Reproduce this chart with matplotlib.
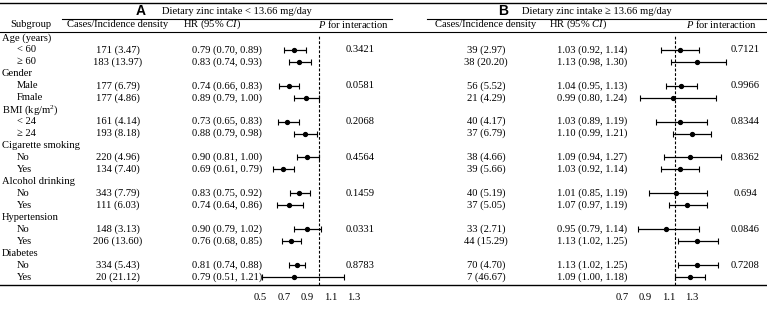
import numpy as np
import matplotlib
matplotlib.use("Agg")
import matplotlib.pyplot as plt

plt.rcParams['font.family'] = ['Liberation Serif', 'DejaVu Serif']
plt.rcParams['mathtext.fontset'] = 'custom'
plt.rcParams['mathtext.rm'] = 'Liberation Serif'
plt.rcParams['mathtext.it'] = 'Liberation Serif:italic'

groups = ["Age (years)", "Gender", "BMI (kg/m$^2$)", "Cigarette smoking",
          "Alcohol drinking", "Hypertension", "Diabetes"]
levels = [["< 60", "≥ 60"], ["Male", "Fmale"], ["< 24", "≥ 24"], ["No", "Yes"],
          ["No", "Yes"], ["No", "Yes"], ["No", "Yes"]]

a_cases = ["171 (3.47)", "183 (13.97)", "177 (6.79)", "177 (4.86)", "161 (4.14)",
           "193 (8.18)", "220 (4.96)", "134 (7.40)", "343 (7.79)", "111 (6.03)",
           "148 (3.13)", "206 (13.60)", "334 (5.43)", "20 (21.12)"]
a_hr = [0.79, 0.83, 0.74, 0.89, 0.73, 0.88, 0.90, 0.69, 0.83, 0.74, 0.90, 0.76, 0.81, 0.79]
a_lo = [0.70, 0.74, 0.66, 0.79, 0.65, 0.79, 0.81, 0.61, 0.75, 0.64, 0.79, 0.68, 0.74, 0.51]
a_hi = [0.89, 0.93, 0.83, 1.00, 0.83, 0.98, 1.00, 0.79, 0.92, 0.86, 1.02, 0.85, 0.88, 1.21]
a_p = ["0.3421", "0.0581", "0.2068", "0.4564", "0.1459", "0.0331", "0.8783"]

b_cases = ["39 (2.97)", "38 (20.20)", "56 (5.52)", "21 (4.29)", "40 (4.17)",
           "37 (6.79)", "38 (4.66)", "39 (5.66)", "40 (5.19)", "37 (5.05)",
           "33 (2.71)", "44 (15.29)", "70 (4.70)", "7 (46.67)"]
b_hr = [1.03, 1.13, 1.04, 0.99, 1.03, 1.10, 1.09, 1.03, 1.01, 1.07, 0.95, 1.13, 1.13, 1.09]
b_lo = [0.92, 0.98, 0.95, 0.80, 0.89, 0.99, 0.94, 0.92, 0.85, 0.97, 0.79, 1.02, 1.02, 1.00]
b_hi = [1.14, 1.30, 1.13, 1.24, 1.19, 1.21, 1.27, 1.14, 1.19, 1.19, 1.14, 1.25, 1.25, 1.18]
b_p = ["0.7121", "0.9966", "0.8344", "0.8362", "0.694", "0.0846", "0.7208"]

ticks = [0.5, 0.7, 0.9, 1.1, 1.3]
ticks_b = [0.7, 0.9, 1.1, 1.3]

W, H = 767, 331
FS = 7.6
fig = plt.figure(figsize=(W / 100, H / 100), dpi=100)
ax = fig.add_axes([0, 0, 1, 1])
ax.set_xlim(0, W)
ax.set_ylim(H, 0)
ax.axis('off')

# row positions (pixels): group header, then its two levels
row_y = 38 + 11.95 * np.arange(3 * len(groups))
lvl_y = np.array([row_y[3 * g + k] for g in range(len(groups)) for k in (1, 2)])
p_y = row_y[1::3]

# rules
ax.plot([0, W], [3, 3], color='black', lw=1.0)
ax.plot([0, W], [31.5, 31.5], color='black', lw=0.8)
ax.plot([0, W], [285, 285], color='black', lw=1.0)
ax.plot([62, 392], [19, 19], color='black', lw=0.8)
ax.plot([427, W], [19, 19], color='black', lw=0.8)

# panel titles
ax.text(141, 11, "A", fontsize=10, fontweight='bold', family='Liberation Sans', ha='center', va='center')
ax.text(162, 11, "Dietary zinc intake < 13.66 mg/day", fontsize=FS, ha='left', va='center')
ax.text(503, 11, "B", fontsize=10, fontweight='bold', family='Liberation Sans', ha='center', va='center')
ax.text(522, 11, "Dietary zinc intake ≥ 13.66 mg/day", fontsize=FS, ha='left', va='center')

# column headers
hy = 24.5
ax.text(31, hy, "Subgroup", fontsize=FS, ha='center', va='center')
for cx, hx, px in [(118, 212, 353), (486, 578, 721)]:
    ax.text(cx, hy, "Cases/Incidence density", fontsize=FS, ha='center', va='center')
    ax.text(hx, hy, "HR (95% $CI$)", fontsize=FS, ha='center', va='center')
    ax.text(px, hy, "$P$ for interaction", fontsize=FS, ha='center', va='center')

# subgroup labels
for g, name in enumerate(groups):
    ax.text(2, row_y[3 * g], name, fontsize=FS, ha='left', va='center')
names = [l for pair in levels for l in pair]
for y, name in zip(lvl_y, names):
    ax.text(17, y, name, fontsize=FS, ha='left', va='center')


def panel(cases, hr, lo, hi, pv, cx, hx, px, one_px, ppu, left, right):
    hr, lo, hi = np.array(hr), np.array(lo), np.array(hi)
    for y, c, h, l, u in zip(lvl_y, cases, hr, lo, hi):
        ax.text(cx, y, c, fontsize=FS, ha='center', va='center')
        ax.text(hx, y, f"{h:.2f} ({l:.2f}, {u:.2f})", fontsize=FS, ha='left', va='center')
    for y, p in zip(p_y, pv):
        ax.text(px, y, p, fontsize=FS, ha='center', va='center')
    axf = fig.add_axes([left / W, 1 - 285 / H, (right - left) / W, (285 - 35) / H])
    axf.set_xlim(1 + (left - one_px) / ppu, 1 + (right - one_px) / ppu)
    axf.set_ylim(285, 35)
    axf.patch.set_alpha(0)
    for s in axf.spines.values():
        s.set_visible(False)
    axf.set_yticks([])
    axf.errorbar(hr, lvl_y, xerr=[hr - lo, hi - hr], fmt='o', ms=2.8, color='black',
                 elinewidth=0.9, capsize=1.9, capthick=0.8)
    axf.axvline(1.0, color='black', lw=0.8, ls=(0, (2.5, 1.6)))
    return axf


axa = panel(a_cases, a_hr, a_lo, a_hi, a_p, 118, 192, 360, 319, 117, 240, 380)
axa.set_xticks(ticks)
axa.set_xticklabels([f"{t:.1f}" for t in ticks])
axa.tick_params(axis='x', length=0, pad=6, labelsize=FS)

axb = panel(b_cases, b_hr, b_lo, b_hi, b_p, 486, 557, 745, 674.5, 172, 610, 740)
axb.set_xticks([])
# panel B axis labels use their own spacing (as in the source figure)
to_tick = lambda v: 1 + (674.5 + (v - 1) * 172 - 657) / 116.7
to_data = lambda t: 1 + (657 + (t - 1) * 116.7 - 674.5) / 172
sec = axb.secondary_xaxis('bottom', functions=(to_tick, to_data))
sec.set_xticks(ticks_b)
sec.set_xticklabels([f"{t:.1f}" for t in ticks_b])
sec.tick_params(axis='x', length=0, pad=6, labelsize=FS)
sec.spines['bottom'].set_visible(False)

fig.savefig("out.png", dpi=100)
